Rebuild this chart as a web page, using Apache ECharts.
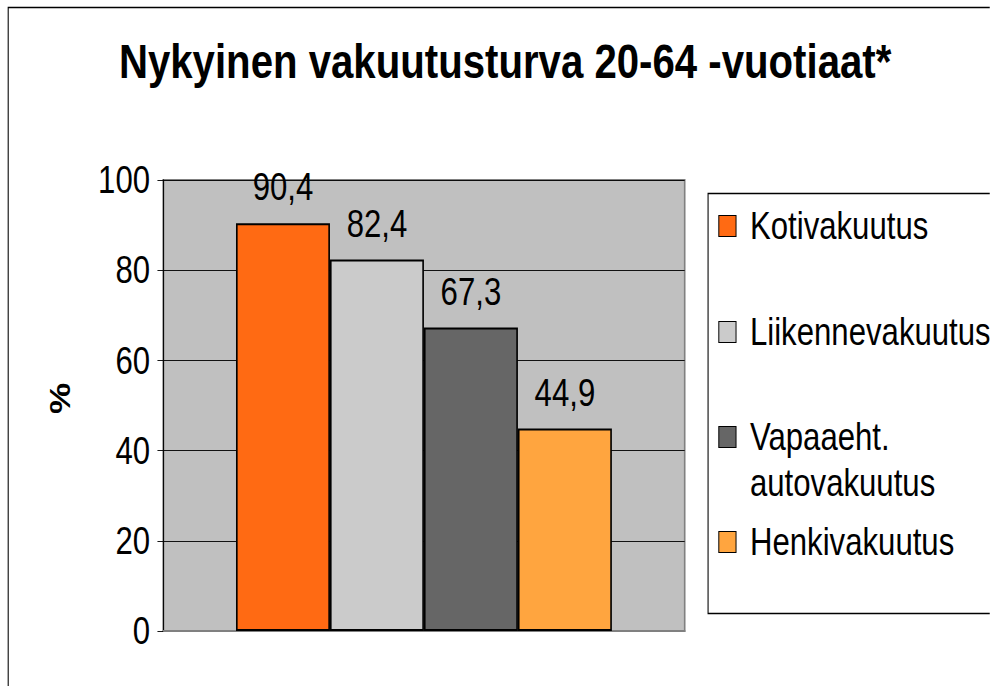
<!DOCTYPE html>
<html>
<head>
<meta charset="utf-8">
<script src="https://cdn.jsdelivr.net/npm/echarts@6/dist/echarts.min.js"></script>
<style>
  html, body { margin: 0; padding: 0; background: #fff; overflow: hidden; }
  /* the original uses horizontally squeezed Arial, so the whole chart is drawn wider and squeezed */
  #chart { width: 1207px; height: 686px; transform: scaleX(0.82); transform-origin: 0 0; }
</style>
</head>
<body>
<div id="chart"></div>
<script>
// data
const titleText = 'Nykyinen vakuutusturva 20-64 -vuotiaat*'
const categories = ['']
const seriesNames = ['Kotivakuutus', 'Liikennevakuutus', 'Vapaaeht. autovakuutus', 'Henkivakuutus']
const seriesValues = [90.4, 82.4, 67.3, 44.9]
const seriesColors = ['#ff6a13', '#cbcbcb', '#666666', '#ffa53f']
const legendTops = [203, 309, 414, 519]

const FONT = "'Liberation Sans', Arial, sans-serif"

const myChart = echarts.init(document.getElementById('chart'), null, { renderer: 'svg' })

const options = {
  animation: false,
  backgroundColor: '#fff',
  title: {
    text: titleText,
    left: 145,
    top: 36,
    padding: 0,
    textStyle: {
      fontFamily: FONT,
      fontWeight: 'bold',
      fontSize: 49,
      color: '#000'
    }
  },
  graphic: [
    // outer frame
    { type: 'rect', shape: { x: 10, y: 7.5, width: 1300, height: 700 }, style: { fill: 'none', stroke: '#000', lineWidth: 1.3 }, z: -1 },
    // legend box
    { type: 'rect', shape: { x: 863.5, y: 193.5, width: 400, height: 420 }, style: { fill: '#fff', stroke: '#000', lineWidth: 1.3 }, z: -1 }
  ],
  legend: seriesNames.map((name, i) => {
    const twoLines = name.indexOf('. ') > 0
    return {
      data: [name],
      left: 876,
      top: legendTops[i],
      // two-line item: square sits at the top of a taller icon box, level with the first line
      icon: twoLines ? 'path://M0,0L21,0L21,21L0,21Z M0,67' : 'rect',
      itemWidth: 21,
      itemHeight: twoLines ? 67 : 21,
      itemGap: 0,
      padding: 0,
      selectedMode: false,
      formatter: n => n.replace('. ', '.\n'),
      itemStyle: { borderColor: '#000', borderWidth: 1.2 },
      textStyle: {
        fontFamily: FONT,
        fontSize: 38,
        color: '#000',
        lineHeight: 46,
        padding: [0, 0, 0, 12]
      }
    }
  }),
  grid: {
    left: 199,
    right: 372,
    top: 180,
    bottom: 55,
    show: true,
    backgroundColor: '#c0c0c0',
    borderColor: '#808080',
    borderWidth: 2
  },
  xAxis: {
    type: 'category',
    data: categories,
    axisLine: { show: true, lineStyle: { color: '#808080', width: 2 } },
    axisTick: { show: false },
    axisLabel: { show: false }
  },
  yAxis: {
    type: 'value',
    min: 0,
    max: 100,
    interval: 20,
    name: '%',
    nameLocation: 'middle',
    nameGap: 108,
    nameRotate: 90,
    nameTextStyle: {
      fontFamily: FONT,
      fontWeight: 'bold',
      fontSize: 35,
      color: '#000',
      padding: [0, 0, 0, 14]
    },
    axisLine: { show: true, lineStyle: { color: '#000', width: 1.3 } },
    axisTick: { show: true, length: 7, inside: false, lineStyle: { color: '#000' } },
    splitLine: { show: true, lineStyle: { color: '#000', width: 1 } },
    axisLabel: {
      fontFamily: FONT,
      fontSize: 38,
      color: '#000',
      margin: 16
    }
  },
  series: seriesNames.map((name, i) => ({
    name: name,
    type: 'bar',
    data: [seriesValues[i]],
    barWidth: 114.6,
    barGap: '0%',
    itemStyle: { color: seriesColors[i], borderColor: '#000', borderWidth: 2 },
    label: {
      show: true,
      position: 'top',
      distance: 17,
      formatter: p => String(p.value).replace('.', ','),
      fontFamily: FONT,
      fontSize: 38,
      color: '#000'
    }
  }))
}

myChart.setOption(options)
</script>
</body>
</html>
